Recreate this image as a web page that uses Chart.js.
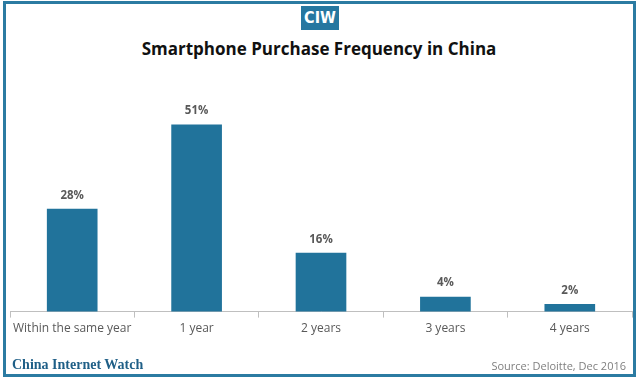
<!DOCTYPE html>
<html>
<head>
<meta charset="utf-8">
<script src="https://cdn.jsdelivr.net/npm/chart.js@4.4.1/dist/chart.umd.min.js"></script>
<style>
  html, body { margin: 0; padding: 0; background: #ffffff; }
  #wrap { position: relative; width: 638px; height: 381px; overflow: hidden; background: #fff; }
  #frame { position: absolute; left: 3px; top: 1px; width: 627px; height: 370px; border: 3px solid #2b7ba2; }
  #logo { position: absolute; left: 301px; top: 6px; width: 38px; height: 24px; background: #2677a0; color: #fff;
          font: bold 16px "Liberation Sans Narrow", "DejaVu Sans Condensed", Arial, sans-serif; text-align: center; line-height: 24px; letter-spacing: 0px; }
  #title { position: absolute; left: 0; top: 37px; width: 638px; text-align: center; color: #111;
           font: bold 17px "Open Sans", "DejaVu Sans", sans-serif; }
  #brand { position: absolute; left: 12px; top: 357px; color: #1f5f87; font: bold 14px "Liberation Serif", "DejaVu Serif", serif; }
  #source { position: absolute; right: 12px; top: 358px; color: #7f7f7f; font: 11px "Open Sans", "DejaVu Sans", sans-serif; }
  #cv { position: absolute; left: 0; top: 0; }
</style>
</head>
<body>
<div id="wrap">
  <div id="frame"></div>
  <div id="logo">CIW</div>
  <div id="title">Smartphone Purchase Frequency in China</div>
  <canvas id="cv" width="638" height="381"></canvas>
  <div id="brand">China Internet Watch</div>
  <div id="source">Source: Deloitte, Dec 2016</div>
</div>
<script>
const categories = ["Within the same year", "1 year", "2 years", "3 years", "4 years"];
const shares = [28, 51, 16, 4, 2];
const valueLabels = ["28%", "51%", "16%", "4%", "2%"];

const labelPlugin = {
  id: 'valueLabels',
  afterDatasetsDraw(chart) {
    const ctx = chart.ctx;
    const meta = chart.getDatasetMeta(0);
    ctx.save();
    ctx.fillStyle = '#595959';
    ctx.font = 'bold 11.5px "Open Sans", "DejaVu Sans", sans-serif';
    ctx.textAlign = 'center';
    ctx.textBaseline = 'bottom';
    meta.data.forEach((bar, i) => {
      ctx.fillText(valueLabels[i], bar.x, bar.y - 8);
    });
    ctx.restore();
  }
};

new Chart(document.getElementById('cv'), {
  type: 'bar',
  data: {
    labels: categories,
    datasets: [{
      data: shares,
      backgroundColor: '#21739b',
      borderWidth: 0,
      barThickness: 50
    }]
  },
  options: {
    responsive: false,
    animation: false,
    devicePixelRatio: 1,
    layout: { padding: { left: 10, right: 6, top: 92, bottom: 41 } },
    plugins: { legend: { display: false }, tooltip: { enabled: false }, title: { display: false } },
    scales: {
      x: {
        offset: true,
        grid: { display: true, drawOnChartArea: false, drawTicks: true, tickLength: 6, color: '#bfbfbf', offset: true },
        border: { display: true, color: '#bfbfbf', width: 1 },
        ticks: { color: '#595959', font: { size: 12, family: '"Open Sans", "DejaVu Sans", sans-serif' }, padding: 4, maxRotation: 0, autoSkip: false }
      },
      y: {
        display: false,
        min: 0,
        max: 60
      }
    }
  },
  plugins: [labelPlugin]
});
</script>
</body>
</html>
